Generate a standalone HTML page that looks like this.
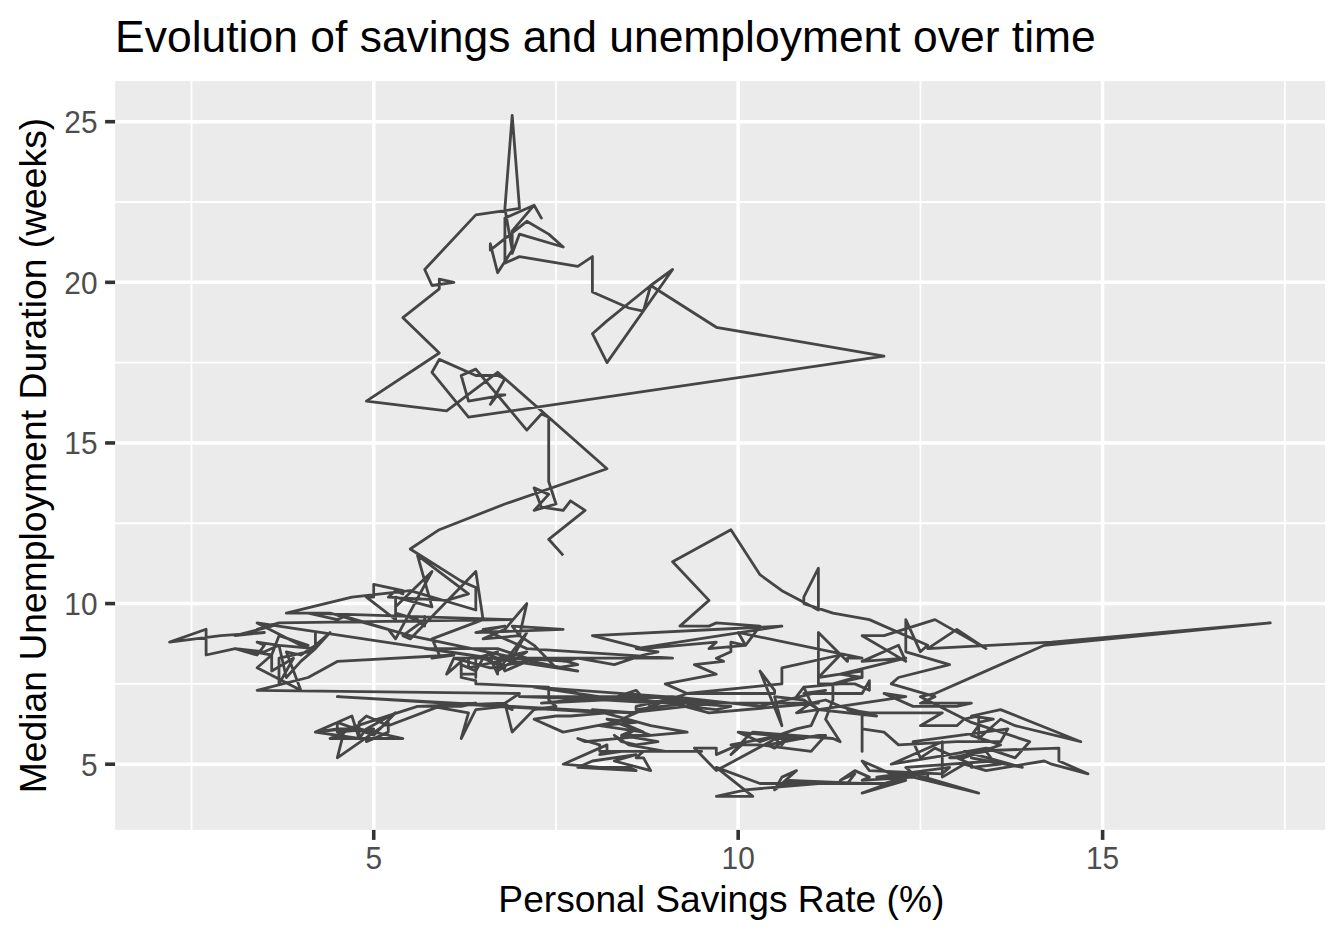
<!DOCTYPE html>
<html><head><meta charset="utf-8"><title>Evolution of savings and unemployment over time</title>
<style>
html,body{margin:0;padding:0;background:#fff;}
body{width:1344px;height:940px;overflow:hidden;}
svg{display:block;}
text{font-family:"Liberation Sans",Arial,Helvetica,sans-serif;}
.t{font-size:44px;fill:#000;}
.at{font-size:36.67px;fill:#000;}
.ax{font-size:30.5px;fill:#4d4d4d;}
</style></head><body>
<svg width="1344" height="940" viewBox="0 0 1344 940">
<rect width="1344" height="940" fill="#fff"/>
<rect x="115.10" y="81.10" width="1209.95" height="748.80" fill="#ebebeb"/>
<g stroke="#fff" stroke-width="1.78" fill="none">
<line x1="191.50" x2="191.50" y1="81.10" y2="829.90"/><line x1="555.95" x2="555.95" y1="81.10" y2="829.90"/><line x1="920.40" x2="920.40" y1="81.10" y2="829.90"/><line x1="1284.85" x2="1284.85" y1="81.10" y2="829.90"/><line x1="115.10" x2="1325.05" y1="683.89" y2="683.89"/><line x1="115.10" x2="1325.05" y1="523.26" y2="523.26"/><line x1="115.10" x2="1325.05" y1="362.64" y2="362.64"/><line x1="115.10" x2="1325.05" y1="202.01" y2="202.01"/></g>
<g stroke="#fff" stroke-width="3.5" fill="none">
<line x1="373.73" x2="373.73" y1="81.10" y2="829.90"/><line x1="738.17" x2="738.17" y1="81.10" y2="829.90"/><line x1="1102.62" x2="1102.62" y1="81.10" y2="829.90"/><line x1="115.10" x2="1325.05" y1="764.20" y2="764.20"/><line x1="115.10" x2="1325.05" y1="603.58" y2="603.58"/><line x1="115.10" x2="1325.05" y1="442.95" y2="442.95"/><line x1="115.10" x2="1325.05" y1="282.33" y2="282.33"/><line x1="115.10" x2="1325.05" y1="121.70" y2="121.70"/></g>
<g stroke="#454545" stroke-width="2.8" fill="none" stroke-linejoin="round" stroke-linecap="butt">
<path d="M927.7 780.3 L927.7 773.8 L876.7 777.1 L949.6 767.4 L942.3 773.8 L869.4 770.6 L862.1 761.0 L905.8 780.3 L862.1 793.1 L905.8 777.1 L884.0 783.5 L862.1 783.5 L789.2 780.3 L774.6 789.9 L781.9 777.1 L796.5 770.6 L781.9 783.5 L818.4 783.5 L760.0 783.5 L716.3 767.4 L752.8 796.3 L716.3 796.3 L745.5 789.9 L818.4 783.5 L869.4 783.5 L847.5 783.5 L854.8 773.8 L840.2 780.3 L854.8 770.6 L869.4 777.1 L869.4 777.1 L862.1 780.3 L913.1 777.1 L978.7 793.1 L913.1 773.8 L905.8 767.4 L993.3 761.0 L986.0 751.4 L949.6 757.8 L964.1 757.8 L1000.6 744.9 L971.4 735.3 L978.7 725.7 L978.7 722.4 L993.3 719.2 L971.4 716.0 L1000.6 709.6 L1080.8 741.7 L1015.2 725.7 L1000.6 719.2 L978.7 738.5 L978.7 716.0 L964.1 719.2 L956.8 725.7 L920.4 725.7 L942.3 712.8 L869.4 712.8 L847.5 709.6 L862.1 712.8 L862.1 751.4 L862.1 728.9 L884.0 732.1 L898.5 744.9 L956.8 741.7 L1000.6 741.7 L1007.9 728.9 L913.1 741.7 L920.4 757.8 L935.0 748.1 L971.4 764.2 L971.4 767.4 L1000.6 764.2 L971.4 757.8 L1022.4 767.4 L964.1 751.4 L1058.9 748.1 L1058.9 761.0 L1088.0 773.8 L1051.6 764.2 L1044.3 761.0 L986.0 770.6 L964.1 764.2 L942.3 777.1 L942.3 754.6 L942.3 741.7 L891.2 764.2 L949.6 754.6 L986.0 748.1 L1015.2 757.8 L1029.7 741.7 L971.4 722.4 L920.4 696.7 L935.0 693.5 L1044.3 645.3 L1270.3 622.9 L1051.6 642.1 L927.7 648.6 L956.8 629.3 L956.8 629.3 L986.0 648.6 L935.0 619.6 L884.0 635.7 L862.1 635.7 L905.8 661.4 L898.5 645.3 L862.1 661.4 L905.8 658.2 L840.2 674.2 L862.1 677.5 L862.1 671.0 L840.2 674.2 L818.4 677.5 L840.2 655.0 L781.9 667.8 L781.9 683.9 L687.2 693.5 L774.6 693.5 L774.6 690.3 L760.0 671.0 L781.9 725.7 L774.6 696.7 L803.8 700.0 L818.4 709.6 L811.1 703.2 L825.6 700.0 L840.2 706.4 L876.7 716.0 L818.4 709.6 L811.1 725.7 L796.5 728.9 L760.0 741.7 L738.2 732.1 L803.8 738.5 L774.6 738.5 L781.9 744.9 L789.2 735.3 L774.6 748.1 L767.3 744.9 L818.4 735.3 L818.4 735.3 L825.6 735.3 L811.1 751.4 L760.0 744.9 L730.9 744.9 L781.9 735.3 L716.3 770.6 L694.4 748.1 L716.3 748.1 L716.3 754.6 L745.5 741.7 L730.9 754.6 L745.5 738.5 L752.8 732.1 L832.9 738.5 L840.2 741.7 L825.6 719.2 L832.9 700.0 L832.9 683.9 L862.1 677.5 L832.9 683.9 L854.8 677.5 L840.2 683.9 L803.8 687.1 L796.5 696.7 L796.5 696.7 L803.8 687.1 L811.1 703.2 L796.5 712.8 L905.8 696.7 L884.0 693.5 L913.1 706.4 L956.8 706.4 L971.4 703.2 L920.4 703.2 L935.0 696.7 L891.2 683.9 L898.5 677.5 L949.6 664.6 L905.8 651.8 L905.8 619.6 L920.4 651.8 L927.7 645.3 L869.4 619.6 L832.9 613.2 L803.8 603.6 L803.8 597.2 L818.4 568.2 L818.4 610.0 L781.9 590.7 L760.0 574.7 L730.9 529.7 L672.6 561.8 L709.0 600.4 L679.9 626.1 L709.0 626.1 L716.3 622.9 L760.0 626.1 L745.5 645.3 L738.2 632.5 L862.1 658.2 L847.5 658.2 L847.5 661.4 L818.4 632.5 L818.4 683.9 L854.8 683.9 L869.4 690.3 L869.4 680.7 L862.1 693.5 L803.8 693.5 L825.6 690.3 L760.0 706.4 L672.6 696.7 L643.4 696.7 L730.9 703.2 L818.4 703.2 L709.0 712.8 L672.6 703.2 L607.0 696.7 L541.4 703.2 L672.6 696.7 L665.3 700.0 L636.1 706.4 L636.1 709.6 L687.2 703.2 L730.9 706.4 L716.3 709.6 L687.2 706.4 L694.4 700.0 L687.2 703.2 L665.3 696.7 L534.1 687.1 L621.6 700.0 L650.7 696.7 L519.5 696.7 L716.3 703.2 L628.8 712.8 L628.8 712.8 L337.3 696.7 L607.0 712.8 L570.5 716.0 L556.0 716.0 L534.1 719.2 L563.2 732.1 L614.3 722.4 L628.8 725.7 L643.4 732.1 L599.7 725.7 L636.1 722.4 L607.0 719.2 L650.7 735.3 L621.6 735.3 L621.6 738.5 L636.1 728.9 L621.6 735.3 L658.0 741.7 L636.1 744.9 L621.6 741.7 L614.3 735.3 L628.8 744.9 L665.3 751.4 L701.7 751.4 L621.6 751.4 L599.7 754.6 L607.0 751.4 L607.0 744.9 L563.2 764.2 L599.7 767.4 L628.8 767.4 L636.1 770.6 L577.8 767.4 L592.4 761.0 L636.1 754.6 L614.3 761.0 L650.7 770.6 L643.4 757.8 L636.1 757.8 L643.4 751.4 L599.7 751.4 L599.7 744.9 L577.8 738.5 L585.1 741.7 L650.7 735.3 L687.2 732.1 L650.7 725.7 L592.4 709.6 L636.1 712.8 L621.6 719.2 L658.0 703.2 L607.0 700.0 L636.1 690.3 L650.7 706.4 L687.2 693.5 L665.3 683.9 L716.3 674.2 L694.4 664.6 L723.6 661.4 L716.3 658.2 L730.9 651.8 L730.9 642.1 L745.5 645.3 L709.0 648.6 L716.3 642.1 L643.4 648.6 L592.4 635.7 L592.4 635.7 L781.9 626.1 L636.1 648.6 L658.0 651.8 L658.0 651.8 L643.4 655.0 L614.3 664.6 L577.8 658.2 L563.2 661.4 L570.5 661.4 L512.2 658.2 L468.5 667.8 L468.5 658.2 L672.6 658.2 L526.8 648.6 L483.1 629.3 L504.9 626.1 L475.8 632.5 L563.2 629.3 L512.2 626.1 L519.5 635.7 L483.1 638.9 L504.9 629.3 L526.8 603.6 L519.5 635.7 L534.1 645.3 L556.0 667.8 L577.8 664.6 L556.0 658.2 L512.2 658.2 L526.8 632.5 L497.6 671.0 L526.8 651.8 L497.6 658.2 L504.9 671.0 L526.8 661.4 L490.3 667.8 L453.9 658.2 L497.6 658.2 L497.6 674.2 L490.3 658.2 L424.7 648.6 L497.6 648.6 L526.8 658.2 L497.6 658.2 L490.3 655.0 L497.6 651.8 L475.8 658.2 L475.8 677.5 L475.8 674.2 L461.2 674.2 L461.2 664.6 L475.8 671.0 L483.1 658.2 L504.9 667.8 L490.3 667.8 L453.9 658.2 L446.6 674.2 L461.2 661.4 L461.2 677.5 L475.8 680.7 L475.8 683.9 L548.7 687.1 L548.7 700.0 L556.0 706.4 L534.1 709.6 L512.2 732.1 L504.9 703.2 L512.2 709.6 L504.9 706.4 L475.8 709.6 L461.2 738.5 L468.5 712.8 L432.0 706.4 L475.8 703.2 L461.2 706.4 L439.3 706.4 L388.3 725.7 L366.4 716.0 L359.1 722.4 L359.1 738.5 L351.9 716.0 L315.4 732.1 L344.6 728.9 L359.1 725.7 L330.0 738.5 L402.9 738.5 L359.1 728.9 L337.3 732.1 L373.7 728.9 L366.4 738.5 L366.4 741.7 L388.3 732.1 L388.3 722.4 L337.3 757.8 L344.6 728.9 L337.3 728.9 L315.4 732.1 L359.1 738.5 L366.4 728.9 L395.6 712.8 L373.7 735.3 L337.3 722.4 L337.3 732.1 L417.5 706.4 L504.9 703.2 L519.5 693.5 L257.1 690.3 L308.1 677.5 L337.3 661.4 L453.9 655.0 L432.0 658.2 L439.3 655.0 L432.0 638.9 L483.1 619.6 L475.8 571.5 L410.2 638.9 L402.9 635.7 L424.7 619.6 L424.7 616.4 L424.7 626.1 L410.2 616.4 L410.2 616.4 L417.5 619.6 L395.6 613.2 L395.6 597.2 L432.0 606.8 L417.5 555.4 L468.5 593.9 L446.6 600.4 L388.3 597.2 L395.6 590.7 L402.9 593.9 L402.9 590.7 L373.7 584.3 L373.7 597.2 L366.4 597.2 L395.6 619.6 L395.6 606.8 L432.0 571.5 L395.6 638.9 L388.3 629.3 L344.6 616.4 L337.3 619.6 L308.1 613.2 L512.2 619.6 L279.0 622.9 L257.1 629.3 L271.7 626.1 L235.2 635.7 L264.4 632.5 L220.7 635.7 L169.6 642.1 L206.1 629.3 L206.1 655.0 L235.2 648.6 L264.4 651.8 L279.0 645.3 L315.4 648.6 L315.4 632.5 L315.4 645.3 L300.8 655.0 L286.3 651.8 L300.8 690.3 L257.1 667.8 L271.7 655.0 L271.7 667.8 L271.7 671.0 L293.5 658.2 L279.0 683.9 L279.0 658.2 L308.1 651.8 L330.0 632.5 L315.4 648.6 L300.8 661.4 L286.3 677.5 L279.0 645.3 L257.1 642.1 L264.4 645.3 L257.1 655.0 L235.2 648.6 L271.7 655.0 L279.0 635.7 L308.1 645.3 L300.8 645.3 L257.1 622.9 L577.8 671.0 L410.2 635.7 L330.0 613.2 L286.3 613.2 L351.9 597.2 L410.2 590.7 L475.8 610.0 L475.8 587.5 L461.2 581.1 L410.2 549.0 L439.3 529.7 L504.9 504.0 L607.0 468.7 L497.6 372.3 L446.6 410.8 L366.4 401.2 L439.3 353.0 L402.9 317.7 L439.3 288.8 L439.3 279.1 L453.9 282.3 L432.0 285.5 L424.7 269.5 L475.8 214.9 L519.5 208.4 L512.2 115.3 L504.9 208.4 L512.2 250.2 L497.6 272.7 L490.3 243.8 L490.3 250.2 L526.8 221.3 L548.7 234.1 L563.2 247.0 L519.5 234.1 L512.2 253.4 L512.2 230.9 L534.1 205.2 L541.4 218.1 L534.1 205.2 L504.9 218.1 L504.9 263.1 L519.5 256.6 L577.8 266.3 L592.4 256.6 L592.4 292.0 L628.8 308.0 L643.4 311.2 L650.7 285.5 L672.6 269.5 L607.0 362.6 L592.4 333.7 L607.0 320.9 L650.7 285.5 L716.3 327.3 L884.0 356.2 L468.5 417.2 L432.0 372.3 L439.3 359.4 L475.8 375.5 L497.6 375.5 L504.9 378.7 L490.3 404.4 L497.6 394.8 L504.9 394.8 L468.5 401.2 L461.2 375.5 L475.8 369.1 L526.8 430.1 L541.4 414.0 L548.7 417.2 L548.7 420.5 L548.7 455.8 L548.7 481.5 L556.0 504.0 L534.1 510.4 L548.7 494.4 L534.1 487.9 L541.4 507.2 L563.2 510.4 L570.5 500.8 L585.1 510.4 L548.7 539.3 L563.2 555.4"/>
</g>
<g stroke="#333" stroke-width="3.6">
<line x1="373.73" x2="373.73" y1="829.90" y2="839.90"/><line x1="738.17" x2="738.17" y1="829.90" y2="839.90"/><line x1="1102.62" x2="1102.62" y1="829.90" y2="839.90"/><line x1="105.10" x2="115.10" y1="764.20" y2="764.20"/><line x1="105.10" x2="115.10" y1="603.58" y2="603.58"/><line x1="105.10" x2="115.10" y1="442.95" y2="442.95"/><line x1="105.10" x2="115.10" y1="282.33" y2="282.33"/><line x1="105.10" x2="115.10" y1="121.70" y2="121.70"/></g>
<text class="ax" x="373.73" y="868.80" text-anchor="middle" textLength="16.6" lengthAdjust="spacingAndGlyphs">5</text>
<text class="ax" x="738.17" y="868.80" text-anchor="middle" textLength="33.2" lengthAdjust="spacingAndGlyphs">10</text>
<text class="ax" x="1102.62" y="868.80" text-anchor="middle" textLength="33.2" lengthAdjust="spacingAndGlyphs">15</text>
<text class="ax" x="97.50" y="775.50" text-anchor="end" textLength="16.6" lengthAdjust="spacingAndGlyphs">5</text>
<text class="ax" x="97.50" y="614.88" text-anchor="end" textLength="33.2" lengthAdjust="spacingAndGlyphs">10</text>
<text class="ax" x="97.50" y="454.25" text-anchor="end" textLength="33.2" lengthAdjust="spacingAndGlyphs">15</text>
<text class="ax" x="97.50" y="293.63" text-anchor="end" textLength="33.2" lengthAdjust="spacingAndGlyphs">20</text>
<text class="ax" x="97.50" y="133.00" text-anchor="end" textLength="33.2" lengthAdjust="spacingAndGlyphs">25</text>
<text class="t" x="115.1" y="51.8" textLength="980.7" lengthAdjust="spacingAndGlyphs">Evolution of savings and unemployment over time</text>
<text class="at" x="721.37" y="912" text-anchor="middle" textLength="446" lengthAdjust="spacingAndGlyphs">Personal Savings Rate (%)</text>
<text class="at" transform="translate(46,455.50) rotate(-90)" text-anchor="middle" textLength="675.5" lengthAdjust="spacingAndGlyphs">Median Unemployment Duration (weeks)</text>
</svg>
</body></html>
